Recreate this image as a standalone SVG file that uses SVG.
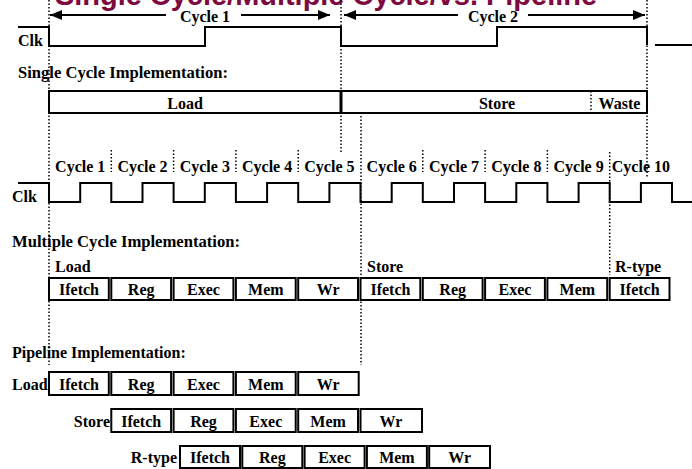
<svg xmlns="http://www.w3.org/2000/svg" width="692" height="469" viewBox="0 0 692 469">
<style>
text{font-family:"Liberation Serif","Times New Roman",serif;font-weight:bold;font-size:16px;fill:#000}
.c{text-anchor:middle}
.e{text-anchor:end}
.title{font-family:"Liberation Sans",Arial,sans-serif;font-size:29px;fill:#7d0a40}
.box{fill:#fff;stroke:#000;stroke-width:2}
.dot{stroke:#000;stroke-width:1.5;stroke-dasharray:1.5 2;fill:none}
.wave{stroke:#000;stroke-width:2;fill:none}
.arr{stroke:#000;stroke-width:2;fill:none}
</style>
<defs>
<marker id="ah" viewBox="0 0 12 10" refX="12" refY="5" markerWidth="12" markerHeight="10" markerUnits="userSpaceOnUse" orient="auto-start-reverse">
<path d="M0,0 L12,5 L0,10 Z" fill="#000"/>
</marker>
</defs>
<rect width="692" height="469" fill="#fff"/>
<text class="title" x="55" y="5" textLength="542" lengthAdjust="spacingAndGlyphs">Single Cycle/Multiple Cycle/vs. Pipeline</text>

<g id="guides">
<line class="dot" x1="49" y1="0" x2="49" y2="365"/>
<line class="dot" x1="341" y1="0" x2="341" y2="153"/>
<line class="dot" x1="361" y1="116" x2="361" y2="365"/>
<line class="dot" x1="647" y1="0" x2="647" y2="177"/>
<line class="dot" x1="609.7" y1="152" x2="609.7" y2="275"/>
<line class="dot" x1="111.3" y1="150" x2="111.3" y2="172"/>
<line class="dot" x1="173.6" y1="150" x2="173.6" y2="172"/>
<line class="dot" x1="235.9" y1="150" x2="235.9" y2="172"/>
<line class="dot" x1="298.2" y1="150" x2="298.2" y2="172"/>
<line class="dot" x1="422.8" y1="150" x2="422.8" y2="172"/>
<line class="dot" x1="485.1" y1="150" x2="485.1" y2="172"/>
<line class="dot" x1="547.4" y1="150" x2="547.4" y2="172"/>
</g>

<g id="connectors">
<line class="arr" x1="166" y1="15" x2="50" y2="15" marker-end="url(#ah)"/>
<line class="arr" x1="241" y1="15" x2="330" y2="15" marker-end="url(#ah)"/>
<line class="arr" x1="458" y1="15" x2="344" y2="15" marker-end="url(#ah)"/>
<line class="arr" x1="528" y1="15" x2="645" y2="15" marker-end="url(#ah)"/>
</g>

<g id="top-clock">
<text class="c" x="205" y="22">Cycle 1</text>
<text class="c" x="493" y="22">Cycle 2</text>
<text x="18" y="46">Clk</text>
<path class="wave" d="M18,27 H49 V46 H205 V27 H341 V46 H497 V27 H647 V45 M655,45 H692"/>
</g>

<g id="single-cycle">
<text x="18" y="78" textLength="210" lengthAdjust="spacingAndGlyphs">Single Cycle Implementation:</text>
<rect class="box" x="49" y="91" width="598" height="22"/>
<line x1="341" y1="91" x2="341" y2="113" stroke="#000" stroke-width="3"/>
<line class="dot" x1="591" y1="91" x2="591" y2="113"/>
<text class="c" x="185" y="109">Load</text>
<text class="c" x="497" y="109">Store</text>
<text class="c" x="619.5" y="109">Waste</text>
</g>

<g id="multi-clock">
<text class="c" x="80.2" y="172">Cycle 1</text>
<text class="c" x="142.5" y="172">Cycle 2</text>
<text class="c" x="204.8" y="172">Cycle 3</text>
<text class="c" x="267.1" y="172">Cycle 4</text>
<text class="c" x="329.4" y="172">Cycle 5</text>
<text class="c" x="391.7" y="172">Cycle 6</text>
<text class="c" x="454" y="172">Cycle 7</text>
<text class="c" x="516.3" y="172">Cycle 8</text>
<text class="c" x="578.6" y="172">Cycle 9</text>
<text class="c" x="640.9" y="172">Cycle 10</text>
<text x="12" y="202">Clk</text>
<path class="wave" d="M18,183 H49 V202 H80.2 V183 H111.3 V202 H142.5 V183 H173.6 V202 H204.8 V183 H235.9 V202 H267.1 V183 H298.2 V202 H329.4 V183 H360.5 V202 H391.7 V183 H422.8 V202 H454 V183 H485.1 V202 H516.3 V183 H547.4 V202 H578.6 V183 H609.7 V202 H640.9 V183 H672 V202 H692"/>
</g>

<g id="multi-cycle">
<text x="12" y="247" textLength="228" lengthAdjust="spacingAndGlyphs">Multiple Cycle Implementation:</text>
<text x="55" y="272">Load</text>
<text x="367" y="272">Store</text>
<text x="615" y="272">R-type</text>
<rect class="box" x="49" y="278" width="59.8" height="22"/>
<rect class="box" x="111.3" y="278" width="59.8" height="22"/>
<rect class="box" x="173.6" y="278" width="59.8" height="22"/>
<rect class="box" x="235.9" y="278" width="59.8" height="22"/>
<rect class="box" x="298.2" y="278" width="59.8" height="22"/>
<rect class="box" x="360.5" y="278" width="59.8" height="22"/>
<rect class="box" x="422.8" y="278" width="59.8" height="22"/>
<rect class="box" x="485.1" y="278" width="59.8" height="22"/>
<rect class="box" x="547.4" y="278" width="59.8" height="22"/>
<rect class="box" x="609.7" y="278" width="59.8" height="22"/>
<text class="c" x="79" y="295">Ifetch</text>
<text class="c" x="141.2" y="295">Reg</text>
<text class="c" x="203.5" y="295">Exec</text>
<text class="c" x="265.8" y="295">Mem</text>
<text class="c" x="328.1" y="295">Wr</text>
<text class="c" x="390.4" y="295">Ifetch</text>
<text class="c" x="452.7" y="295">Reg</text>
<text class="c" x="515" y="295">Exec</text>
<text class="c" x="577.3" y="295">Mem</text>
<text class="c" x="639.6" y="295">Ifetch</text>
</g>

<g id="pipeline">
<text x="12" y="358">Pipeline Implementation:</text>
<text x="12" y="390">Load</text>
<rect class="box" x="49" y="372" width="59.8" height="23"/>
<rect class="box" x="111.3" y="372" width="59.8" height="23"/>
<rect class="box" x="173.6" y="372" width="59.8" height="23"/>
<rect class="box" x="235.9" y="372" width="59.8" height="23"/>
<rect class="box" x="298.2" y="372" width="60.5" height="23"/>
<text class="c" x="79" y="390">Ifetch</text>
<text class="c" x="141.2" y="390">Reg</text>
<text class="c" x="203.5" y="390">Exec</text>
<text class="c" x="265.8" y="390">Mem</text>
<text class="c" x="328.1" y="390">Wr</text>

<text class="e" x="110" y="427">Store</text>
<rect class="box" x="111.3" y="409" width="59.8" height="23"/>
<rect class="box" x="173.6" y="409" width="59.8" height="23"/>
<rect class="box" x="235.9" y="409" width="59.8" height="23"/>
<rect class="box" x="298.2" y="409" width="59.8" height="23"/>
<rect class="box" x="360.5" y="409" width="61.5" height="23"/>
<text class="c" x="141.2" y="427">Ifetch</text>
<text class="c" x="203.5" y="427">Reg</text>
<text class="c" x="265.8" y="427">Exec</text>
<text class="c" x="328.1" y="427">Mem</text>
<text class="c" x="391" y="427">Wr</text>

<text class="e" x="177" y="463">R-type</text>
<rect class="box" x="180" y="446" width="60" height="22"/>
<rect class="box" x="242.3" y="446" width="60" height="22"/>
<rect class="box" x="304.6" y="446" width="60" height="22"/>
<rect class="box" x="366.9" y="446" width="60" height="22"/>
<rect class="box" x="429.2" y="446" width="60.8" height="22"/>
<text class="c" x="210" y="463">Ifetch</text>
<text class="c" x="272.3" y="463">Reg</text>
<text class="c" x="334.6" y="463">Exec</text>
<text class="c" x="396.9" y="463">Mem</text>
<text class="c" x="459.6" y="463">Wr</text>
</g>
</svg>
